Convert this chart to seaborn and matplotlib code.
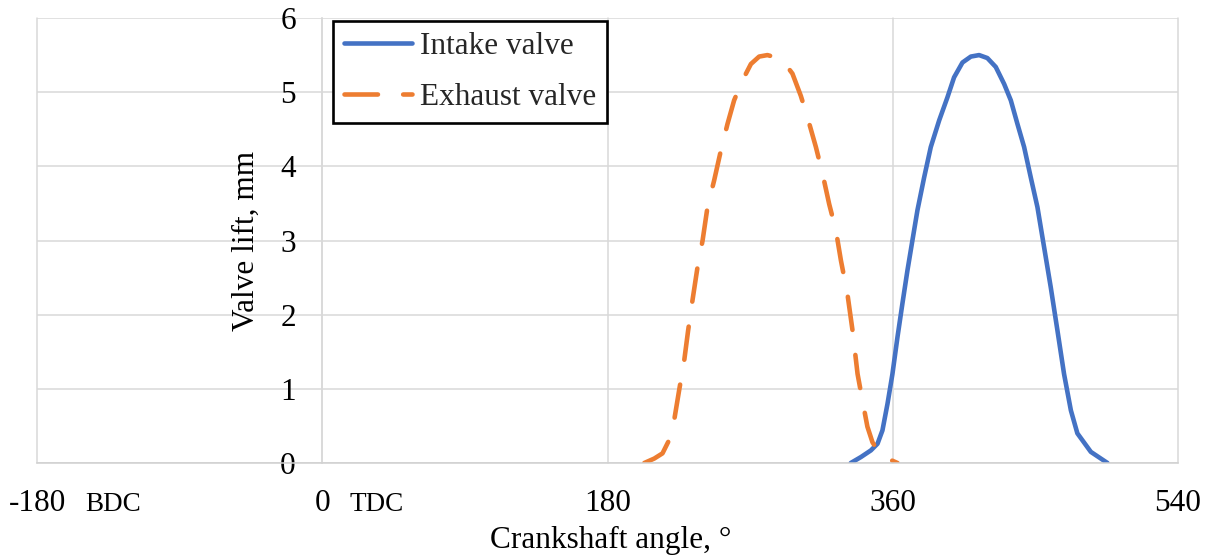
import matplotlib
matplotlib.use("Agg")
import matplotlib.pyplot as plt
import seaborn as sns
from matplotlib.transforms import blended_transform_factory

# Valve lift profiles (crank angle in degrees, lift in mm)
intake_angle = [333.5, 339.9, 346.2, 350.4, 353.5, 356.7, 359.8, 363.0, 366.1, 369.3,
                372.4, 375.6, 379.8, 384.0, 389.3, 394.5, 398.7, 404.0, 409.3, 414.5,
                419.7, 425.0, 430.3, 434.5, 438.7, 442.9, 447.1, 451.3, 455.5, 459.7,
                463.9, 468.1, 472.4, 476.5, 485.0, 495.5]
intake_lift = [0.00, 0.08, 0.17, 0.26, 0.44, 0.80, 1.20, 1.70, 2.15, 2.60,
               3.00, 3.41, 3.85, 4.26, 4.62, 4.93, 5.20, 5.40, 5.48, 5.50,
               5.46, 5.34, 5.11, 4.89, 4.57, 4.26, 3.85, 3.45, 2.91, 2.37,
               1.79, 1.20, 0.71, 0.40, 0.15, 0.00]

exhaust_angle = [203.2, 209.5, 214.7, 218.9, 222.1, 225.2, 228.4, 230.9, 233.6, 236.8,
                 240.0, 243.1, 247.3, 251.5, 255.7, 259.9, 265.2, 270.5, 275.7, 280.9,
                 286.0, 291.5, 296.7, 302.0, 306.2, 311.5, 315.7, 319.9, 324.1, 327.3,
                 331.4, 334.6, 337.8, 340.9, 344.0, 347.2, 352.5, 363.0]
exhaust_lift = [0.00, 0.06, 0.13, 0.31, 0.58, 0.98, 1.38, 1.79, 2.19, 2.64,
                3.00, 3.45, 3.81, 4.21, 4.57, 4.89, 5.16, 5.38, 5.48, 5.50,
                5.47, 5.40, 5.25, 4.95, 4.66, 4.26, 3.90, 3.49, 3.14, 2.73,
                2.28, 1.79, 1.20, 0.84, 0.49, 0.28, 0.10, 0.00]

x_ticks = [-180, 0, 180, 360, 540]
x_tick_labels = ["-180", "0", "180", "360", "540"]
y_ticks = [0, 1, 2, 3, 4, 5, 6]
dead_centres = [(-149.5, "BDC"), (17.5, "TDC")]

sns.set_theme(style="white")
plt.rcParams["font.family"] = ["Liberation Serif", "DejaVu Serif"]

W, H = 1212, 558
fig = plt.figure(figsize=(W / 100, H / 100), dpi=100)
ax = fig.add_axes([37 / W, (H - 463) / H, (1178 - 37) / W, (463 - 18) / H])

grid_color = "#d9d9d9"
fs = 22.5
lw = 3.3

sns.lineplot(x=intake_angle, y=intake_lift, ax=ax, color="#4472C4", lw=lw,
             label="Intake valve", sort=False, solid_capstyle="round",
             solid_joinstyle="round")
sns.lineplot(x=exhaust_angle, y=exhaust_lift, ax=ax, color="#ED7D31", lw=lw,
             label="Exhaust valve", sort=False, linestyle=(0, (7.3, 5.5)),
             dash_capstyle="round", dash_joinstyle="round")

ax.set_xlim(-180, 540)
ax.set_ylim(0, 6)
ax.set_xticks(x_ticks)
ax.set_xticklabels(x_tick_labels)
ax.set_yticks(y_ticks)

ax.grid(True, color=grid_color, lw=1.1)
ax.set_axisbelow(True)
for gl in ax.get_xgridlines() + ax.get_ygridlines():
    gl.set_clip_on(False)

for side in ["top", "right"]:
    ax.spines[side].set_visible(False)
ax.spines["left"].set_position(("data", 0))
ax.spines["left"].set_color(grid_color)
ax.spines["left"].set_linewidth(1.1)
ax.spines["bottom"].set_color("#d0d0d0")
ax.spines["bottom"].set_linewidth(1.1)

ax.tick_params(axis="both", length=0, labelsize=fs, labelcolor="black")
ax.tick_params(axis="x", pad=19)
ax.tick_params(axis="y", pad=19)

trans = blended_transform_factory(ax.transData, ax.transAxes)
for xpos, txt in dead_centres:
    ax.text(xpos, -0.108, txt, transform=trans, ha="left", va="baseline",
            fontsize=19.5, color="black")

ax.set_xlabel("Crankshaft angle, °", fontsize=fs, color="black")
ax.set_ylabel("Valve lift, mm", fontsize=fs, color="black")
ax.xaxis.set_label_coords(0.5026, -0.1415)
ax.yaxis.set_label_coords(0.1963, 0.5)

leg = ax.legend(loc="upper left", bbox_to_anchor=(0.2594, 0.993), borderaxespad=0,
                fontsize=fs, frameon=True, fancybox=False, handlelength=2.19,
                handletextpad=0.25, borderpad=0.35, labelspacing=0.71)
leg.get_frame().set_edgecolor("black")
leg.get_frame().set_linewidth(1.9)
leg.get_frame().set_alpha(1)

fig.savefig("out.png", dpi=100)
